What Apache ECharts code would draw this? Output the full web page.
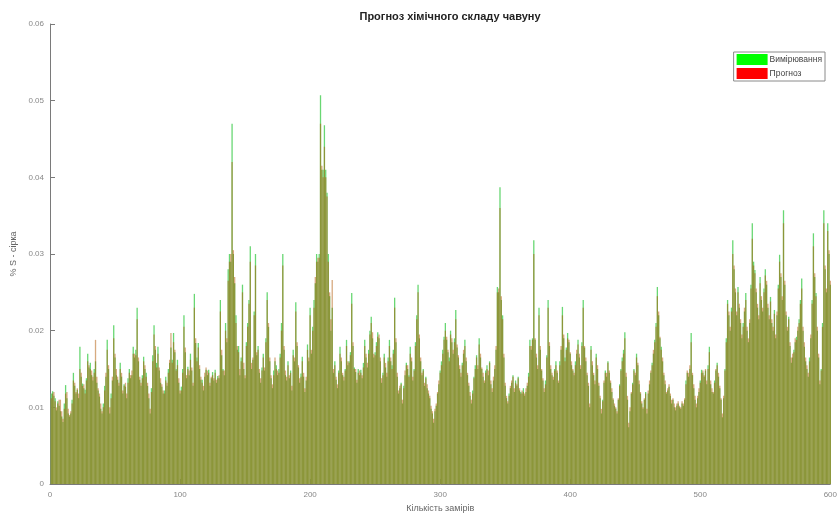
<!DOCTYPE html>
<html>
<head>
<meta charset="utf-8">
<script src="https://cdn.jsdelivr.net/npm/echarts@6/dist/echarts.min.js"></script>
<style>
  html, body { margin: 0; padding: 0; background: #fff; }
  #chart { width: 840px; height: 519px; }
</style>
</head>
<body>
<div id="chart"></div>
<script>
// Sulfur content (% S) per measurement: measured values and model forecast
const measured = [
  0.0118,0.0121,0.0115,0.0112,0.0096,0.0108,0.0102,0.0095,0.0088,0.0081,
  0.0105,0.0129,0.0112,0.0092,0.0088,0.0092,0.0110,0.0145,0.0128,0.0118,
  0.0123,0.0112,0.0179,0.0140,0.0131,0.0125,0.0123,0.0138,0.0170,0.0152,
  0.0158,0.0142,0.0135,0.0150,0.0160,0.0132,0.0122,0.0114,0.0098,0.0092,
  0.0105,0.0128,0.0140,0.0188,0.0150,0.0092,0.0118,0.0135,0.0207,0.0165,
  0.0142,0.0136,0.0128,0.0158,0.0140,0.0118,0.0130,0.0127,0.0112,0.0138,
  0.0150,0.0138,0.0142,0.0179,0.0165,0.0175,0.0230,0.0160,0.0136,0.0128,
  0.0142,0.0166,0.0150,0.0145,0.0128,0.0112,0.0092,0.0125,0.0168,0.0207,
  0.0175,0.0158,0.0179,0.0148,0.0132,0.0127,0.0118,0.0122,0.0140,0.0128,
  0.0150,0.0158,0.0178,0.0162,0.0197,0.0172,0.0150,0.0162,0.0132,0.0118,
  0.0127,0.0150,0.0220,0.0172,0.0138,0.0153,0.0142,0.0170,0.0148,0.0128,
  0.0248,0.0184,0.0165,0.0184,0.0150,0.0136,0.0136,0.0122,0.0140,0.0149,
  0.0142,0.0149,0.0128,0.0138,0.0146,0.0135,0.0149,0.0132,0.0141,0.0138,
  0.0240,0.0168,0.0150,0.0142,0.0210,0.0185,0.0280,0.0300,0.0290,0.0470,
  0.0300,0.0262,0.0220,0.0175,0.0180,0.0142,0.0165,0.0260,0.0150,0.0138,
  0.0185,0.0210,0.0240,0.0310,0.0150,0.0162,0.0225,0.0300,0.0168,0.0180,
  0.0145,0.0132,0.0152,0.0170,0.0148,0.0190,0.0250,0.0205,0.0160,0.0138,
  0.0125,0.0148,0.0160,0.0155,0.0142,0.0150,0.0170,0.0210,0.0300,0.0175,
  0.0142,0.0135,0.0160,0.0138,0.0148,0.0122,0.0175,0.0160,0.0237,0.0180,
  0.0152,0.0132,0.0144,0.0166,0.0140,0.0120,0.0135,0.0182,0.0160,0.0230,
  0.0170,0.0205,0.0240,0.0262,0.0300,0.0290,0.0300,0.0507,0.0410,0.0410,
  0.0468,0.0410,0.0380,0.0300,0.0245,0.0200,0.0230,0.0145,0.0160,0.0136,
  0.0125,0.0148,0.0179,0.0160,0.0142,0.0135,0.0150,0.0188,0.0155,0.0160,
  0.0172,0.0249,0.0180,0.0152,0.0146,0.0132,0.0150,0.0142,0.0149,0.0138,
  0.0158,0.0188,0.0165,0.0152,0.0175,0.0200,0.0218,0.0190,0.0165,0.0172,
  0.0185,0.0198,0.0190,0.0160,0.0132,0.0145,0.0170,0.0152,0.0140,0.0165,
  0.0188,0.0160,0.0155,0.0175,0.0243,0.0185,0.0140,0.0118,0.0125,0.0132,
  0.0105,0.0128,0.0142,0.0158,0.0150,0.0142,0.0179,0.0160,0.0135,0.0150,
  0.0185,0.0220,0.0260,0.0190,0.0160,0.0142,0.0150,0.0128,0.0140,0.0125,
  0.0118,0.0112,0.0098,0.0092,0.0080,0.0095,0.0102,0.0118,0.0130,0.0148,
  0.0160,0.0175,0.0192,0.0210,0.0188,0.0172,0.0165,0.0200,0.0185,0.0170,
  0.0190,0.0227,0.0178,0.0165,0.0150,0.0140,0.0158,0.0170,0.0188,0.0160,
  0.0142,0.0128,0.0115,0.0105,0.0122,0.0140,0.0155,0.0168,0.0150,0.0190,
  0.0165,0.0150,0.0140,0.0132,0.0148,0.0155,0.0142,0.0160,0.0130,0.0120,
  0.0135,0.0150,0.0175,0.0257,0.0250,0.0387,0.0240,0.0220,0.0165,0.0128,
  0.0112,0.0105,0.0118,0.0125,0.0132,0.0142,0.0120,0.0135,0.0128,0.0140,
  0.0122,0.0120,0.0118,0.0125,0.0115,0.0120,0.0128,0.0145,0.0188,0.0175,
  0.0190,0.0318,0.0188,0.0165,0.0150,0.0230,0.0175,0.0148,0.0135,0.0120,
  0.0135,0.0168,0.0240,0.0180,0.0150,0.0142,0.0136,0.0150,0.0160,0.0145,
  0.0132,0.0160,0.0175,0.0231,0.0190,0.0165,0.0178,0.0197,0.0185,0.0170,
  0.0155,0.0148,0.0142,0.0160,0.0170,0.0188,0.0165,0.0150,0.0185,0.0240,
  0.0178,0.0160,0.0142,0.0128,0.0100,0.0180,0.0155,0.0142,0.0130,0.0170,
  0.0150,0.0128,0.0112,0.0092,0.0110,0.0132,0.0148,0.0140,0.0160,0.0145,
  0.0132,0.0120,0.0110,0.0102,0.0098,0.0092,0.0110,0.0130,0.0150,0.0165,
  0.0175,0.0198,0.0140,0.0110,0.0074,0.0095,0.0118,0.0132,0.0150,0.0142,
  0.0170,0.0155,0.0130,0.0118,0.0105,0.0098,0.0110,0.0120,0.0092,0.0118,
  0.0130,0.0145,0.0158,0.0170,0.0188,0.0210,0.0257,0.0220,0.0190,0.0179,
  0.0160,0.0142,0.0130,0.0118,0.0122,0.0127,0.0115,0.0105,0.0110,0.0100,
  0.0096,0.0102,0.0105,0.0100,0.0098,0.0105,0.0102,0.0110,0.0135,0.0145,
  0.0140,0.0150,0.0197,0.0142,0.0125,0.0110,0.0100,0.0112,0.0120,0.0135,
  0.0149,0.0145,0.0140,0.0148,0.0130,0.0155,0.0179,0.0130,0.0120,0.0118,
  0.0135,0.0148,0.0158,0.0140,0.0125,0.0110,0.0087,0.0112,0.0150,0.0190,
  0.0240,0.0220,0.0200,0.0230,0.0318,0.0280,0.0250,0.0220,0.0257,0.0230,
  0.0210,0.0190,0.0210,0.0225,0.0249,0.0200,0.0185,0.0210,0.0260,0.0340,
  0.0290,0.0279,0.0250,0.0230,0.0215,0.0270,0.0240,0.0225,0.0255,0.0280,
  0.0260,0.0230,0.0215,0.0244,0.0210,0.0200,0.0227,0.0190,0.0220,0.0260,
  0.0299,0.0270,0.0240,0.0357,0.0260,0.0220,0.0200,0.0218,0.0180,0.0158,
  0.0165,0.0175,0.0185,0.0192,0.0200,0.0215,0.0240,0.0268,0.0200,0.0179,
  0.0160,0.0150,0.0140,0.0165,0.0190,0.0240,0.0327,0.0270,0.0249,0.0200,
  0.0165,0.0130,0.0150,0.0210,0.0357,0.0280,0.0250,0.0340,0.0300,0.0260
];

const forecast = [
  0.0112,0.0118,0.0120,0.0108,0.0100,0.0105,0.0110,0.0110,0.0095,0.0085,
  0.0098,0.0118,0.0120,0.0098,0.0090,0.0095,0.0105,0.0135,0.0132,0.0120,
  0.0125,0.0118,0.0150,0.0145,0.0128,0.0130,0.0118,0.0135,0.0160,0.0155,
  0.0150,0.0148,0.0140,0.0145,0.0188,0.0140,0.0125,0.0118,0.0105,0.0095,
  0.0100,0.0122,0.0145,0.0175,0.0155,0.0100,0.0112,0.0140,0.0190,0.0170,
  0.0150,0.0140,0.0132,0.0150,0.0145,0.0122,0.0128,0.0132,0.0118,0.0132,
  0.0145,0.0142,0.0148,0.0170,0.0170,0.0168,0.0215,0.0165,0.0140,0.0132,
  0.0138,0.0160,0.0155,0.0140,0.0132,0.0118,0.0098,0.0120,0.0160,0.0195,
  0.0180,0.0152,0.0170,0.0152,0.0138,0.0130,0.0122,0.0118,0.0135,0.0132,
  0.0145,0.0162,0.0197,0.0158,0.0185,0.0175,0.0148,0.0155,0.0138,0.0122,
  0.0122,0.0145,0.0205,0.0178,0.0142,0.0150,0.0148,0.0162,0.0152,0.0132,
  0.0230,0.0190,0.0160,0.0178,0.0155,0.0140,0.0132,0.0128,0.0145,0.0152,
  0.0148,0.0145,0.0132,0.0140,0.0142,0.0138,0.0145,0.0136,0.0138,0.0142,
  0.0225,0.0175,0.0148,0.0148,0.0200,0.0190,0.0265,0.0290,0.0300,0.0420,
  0.0305,0.0270,0.0210,0.0180,0.0172,0.0150,0.0160,0.0250,0.0158,0.0142,
  0.0180,0.0205,0.0235,0.0290,0.0158,0.0165,0.0220,0.0285,0.0172,0.0175,
  0.0150,0.0138,0.0148,0.0165,0.0152,0.0185,0.0240,0.0210,0.0165,0.0142,
  0.0130,0.0142,0.0165,0.0150,0.0148,0.0145,0.0165,0.0200,0.0285,0.0180,
  0.0148,0.0140,0.0155,0.0142,0.0145,0.0128,0.0168,0.0165,0.0225,0.0185,
  0.0155,0.0138,0.0140,0.0160,0.0145,0.0125,0.0140,0.0175,0.0165,0.0220,
  0.0175,0.0200,0.0230,0.0270,0.0290,0.0295,0.0295,0.0470,0.0415,0.0400,
  0.0440,0.0400,0.0375,0.0290,0.0250,0.0215,0.0266,0.0150,0.0155,0.0140,
  0.0130,0.0145,0.0170,0.0165,0.0145,0.0140,0.0148,0.0180,0.0160,0.0158,
  0.0168,0.0235,0.0185,0.0150,0.0150,0.0136,0.0145,0.0148,0.0145,0.0142,
  0.0152,0.0180,0.0170,0.0158,0.0170,0.0195,0.0210,0.0198,0.0170,0.0168,
  0.0180,0.0192,0.0195,0.0165,0.0138,0.0142,0.0165,0.0158,0.0145,0.0160,
  0.0180,0.0165,0.0150,0.0170,0.0230,0.0190,0.0145,0.0122,0.0128,0.0130,
  0.0110,0.0125,0.0148,0.0155,0.0155,0.0140,0.0170,0.0165,0.0140,0.0148,
  0.0180,0.0215,0.0250,0.0195,0.0165,0.0145,0.0148,0.0132,0.0138,0.0130,
  0.0122,0.0115,0.0102,0.0095,0.0085,0.0098,0.0105,0.0120,0.0135,0.0145,
  0.0155,0.0170,0.0188,0.0200,0.0192,0.0175,0.0160,0.0195,0.0190,0.0175,
  0.0185,0.0215,0.0182,0.0168,0.0155,0.0145,0.0155,0.0175,0.0180,0.0165,
  0.0145,0.0132,0.0120,0.0110,0.0118,0.0138,0.0150,0.0165,0.0155,0.0182,
  0.0170,0.0152,0.0145,0.0135,0.0145,0.0150,0.0148,0.0158,0.0135,0.0125,
  0.0140,0.0155,0.0180,0.0250,0.0255,0.0360,0.0245,0.0215,0.0170,0.0132,
  0.0115,0.0108,0.0115,0.0128,0.0135,0.0140,0.0125,0.0132,0.0130,0.0138,
  0.0125,0.0118,0.0122,0.0120,0.0118,0.0125,0.0132,0.0140,0.0180,0.0180,
  0.0188,0.0300,0.0190,0.0170,0.0155,0.0220,0.0180,0.0150,0.0138,0.0125,
  0.0130,0.0165,0.0230,0.0185,0.0155,0.0145,0.0140,0.0148,0.0155,0.0148,
  0.0135,0.0155,0.0180,0.0220,0.0195,0.0160,0.0175,0.0190,0.0188,0.0172,
  0.0160,0.0150,0.0145,0.0155,0.0175,0.0182,0.0170,0.0155,0.0180,0.0230,
  0.0180,0.0165,0.0145,0.0132,0.0105,0.0175,0.0160,0.0145,0.0135,0.0165,
  0.0155,0.0132,0.0115,0.0098,0.0108,0.0135,0.0145,0.0145,0.0158,0.0148,
  0.0135,0.0125,0.0112,0.0105,0.0100,0.0095,0.0112,0.0128,0.0148,0.0160,
  0.0170,0.0190,0.0145,0.0115,0.0080,0.0100,0.0120,0.0130,0.0148,0.0145,
  0.0165,0.0158,0.0135,0.0120,0.0108,0.0100,0.0112,0.0118,0.0098,0.0122,
  0.0135,0.0148,0.0155,0.0175,0.0185,0.0205,0.0245,0.0225,0.0192,0.0175,
  0.0165,0.0145,0.0135,0.0120,0.0125,0.0130,0.0118,0.0110,0.0112,0.0105,
  0.0100,0.0105,0.0108,0.0102,0.0100,0.0108,0.0105,0.0112,0.0130,0.0148,
  0.0145,0.0155,0.0185,0.0145,0.0130,0.0115,0.0105,0.0115,0.0125,0.0132,
  0.0145,0.0148,0.0142,0.0150,0.0135,0.0150,0.0172,0.0135,0.0125,0.0120,
  0.0132,0.0150,0.0155,0.0145,0.0128,0.0112,0.0092,0.0115,0.0148,0.0185,
  0.0235,0.0225,0.0205,0.0225,0.0300,0.0285,0.0255,0.0225,0.0250,0.0235,
  0.0215,0.0195,0.0205,0.0230,0.0240,0.0205,0.0190,0.0215,0.0255,0.0320,
  0.0285,0.0275,0.0255,0.0235,0.0220,0.0262,0.0245,0.0230,0.0250,0.0272,
  0.0265,0.0235,0.0220,0.0238,0.0215,0.0205,0.0222,0.0195,0.0225,0.0255,
  0.0290,0.0275,0.0245,0.0340,0.0265,0.0225,0.0205,0.0215,0.0185,0.0165,
  0.0170,0.0172,0.0190,0.0188,0.0205,0.0210,0.0235,0.0255,0.0205,0.0185,
  0.0165,0.0155,0.0145,0.0160,0.0195,0.0235,0.0310,0.0275,0.0245,0.0205,
  0.0170,0.0135,0.0148,0.0205,0.0340,0.0285,0.0255,0.0330,0.0305,0.0265
];

const seriesNames = ['Вимірювання', 'Прогноз'];
const xTicks = { min: 0, max: 600, step: 100 };
const yTicks = { min: 0, max: 0.06, step: 0.01 };

// measurement numbers 1..N on the horizontal axis
const toPoints = arr => arr.map((v, k) => [k + 1, v]);

const fontFamily = '"Liberation Sans", Arial, sans-serif';
const axisGrey = '#7a7a7a';

// Forecast bars are drawn half-transparent over the measured ones,
// so where both overlap the mix reads as olive.
const measuredFill = 'rgb(105,215,115)';
const forecastFill = 'rgba(175,85,0,0.5)';

const chart = echarts.init(document.getElementById('chart'), null, { renderer: 'canvas' });

chart.setOption({
  animation: false,
  backgroundColor: '#ffffff',
  title: {
    text: 'Прогноз хімічного складу чавуну',
    left: 445,
    textAlign: 'center',
    top: 6,
    textStyle: { fontFamily, fontSize: 11, fontWeight: 'bold', color: '#222' }
  },
  legend: {
    orient: 'vertical',
    right: 15,
    top: 52,
    padding: [2, 3, 2, 3],
    itemGap: 3,
    itemWidth: 31,
    itemHeight: 11,
    borderColor: '#8a8a8a',
    borderWidth: 1,
    backgroundColor: '#ffffff',
    textStyle: { fontFamily, fontSize: 8.5, color: '#444', padding: [0, 0, 0, -3] },
    data: [
      { name: seriesNames[0], icon: 'rect', itemStyle: { color: '#00ff00' } },
      { name: seriesNames[1], icon: 'rect', itemStyle: { color: '#ff0000' } }
    ]
  },
  grid: { left: 50, right: -2, top: 24, bottom: 35 },
  xAxis: {
    type: 'value',
    min: xTicks.min,
    max: xTicks.max,
    interval: xTicks.step,
    name: 'Кількість замірів',
    nameLocation: 'middle',
    nameGap: 20,
    nameTextStyle: { fontFamily, fontSize: 9, color: '#666' },
    axisLine: { show: true, lineStyle: { color: axisGrey, width: 1 } },
    axisTick: { show: true, inside: true, length: 5, lineStyle: { color: axisGrey } },
    axisLabel: { fontFamily, fontSize: 8, color: '#888', margin: 7 },
    splitLine: { show: false }
  },
  yAxis: {
    type: 'value',
    min: yTicks.min,
    max: yTicks.max,
    interval: yTicks.step,
    name: '% S - сірка',
    nameLocation: 'middle',
    nameGap: 25,
    nameRotate: 90,
    nameTextStyle: { fontFamily, fontSize: 9, color: '#666' },
    axisLine: { show: true, lineStyle: { color: axisGrey, width: 1 } },
    axisTick: { show: true, inside: true, length: 5, lineStyle: { color: axisGrey } },
    axisLabel: {
      fontFamily, fontSize: 8, color: '#888', margin: 6,
      formatter: v => (v === 0 ? '0' : v.toFixed(2))
    },
    splitLine: { show: false }
  },
  series: [
    {
      name: seriesNames[0],
      type: 'bar',
      data: toPoints(measured),
      barWidth: '100%',
      barGap: '-100%',
      itemStyle: { color: measuredFill },
      emphasis: { disabled: true }
    },
    {
      name: seriesNames[1],
      type: 'bar',
      data: toPoints(forecast),
      barWidth: '100%',
      barGap: '-100%',
      itemStyle: { color: forecastFill },
      emphasis: { disabled: true }
    }
  ]
});
</script>
</body>
</html>
